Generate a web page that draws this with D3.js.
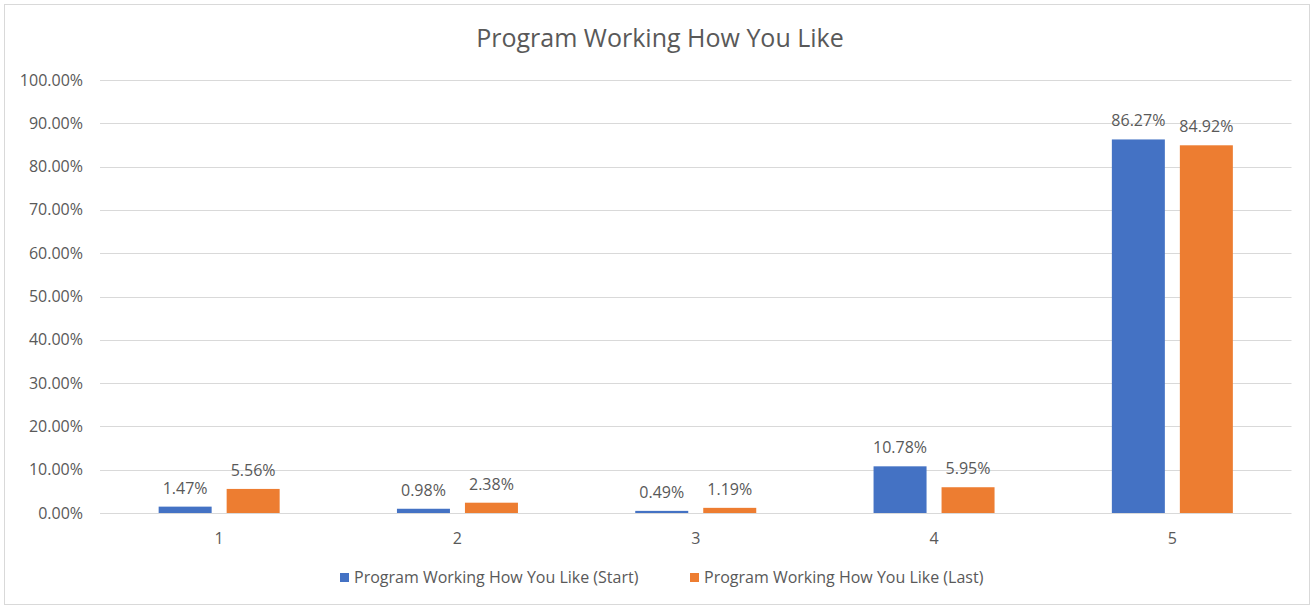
<html>
<head>
<meta charset="utf-8">
<title>Program Working How You Like</title>
<script src="https://cdn.jsdelivr.net/npm/d3@7"></script>
<style>
    body { margin: 0; background: #fff; }
    text { font-family: "Open Sans", "Liberation Sans", sans-serif; fill: #595959; }
</style>
</head>
<body>
<script>
    var categories = ["1", "2", "3", "4", "5"];
    var seriesNames = ["Program Working How You Like (Start)", "Program Working How You Like (Last)"];
    var startValues = [1.47, 0.98, 0.49, 10.78, 86.27];
    var lastValues = [5.56, 2.38, 1.19, 5.95, 84.92];
    var yTicks = [0, 10, 20, 30, 40, 50, 60, 70, 80, 90, 100];
    var colors = ["#4472c4", "#ed7d31"];

    var width = 1313, height = 608;

    var svg = d3.select("body").append("svg")
        .attr("width", width)
        .attr("height", height);

    // chart frame
    svg.append("rect")
        .attr("x", 4.5).attr("y", 4.5)
        .attr("width", 1305).attr("height", 600)
        .attr("fill", "#fff")
        .attr("stroke", "#d9d9d9");

    svg.append("text")
        .attr("x", 660).attr("y", 47)
        .attr("text-anchor", "middle")
        .style("font-size", "25px")
        .text("Program Working How You Like");

    var x = d3.scaleBand().domain(categories).range([100, 1291.5]);
    var y = d3.scaleLinear().domain([0, 100]).range([513, 80]);

    // gridlines
    svg.append("g").selectAll("line")
        .data(yTicks)
        .enter().append("line")
        .attr("x1", 100).attr("x2", 1291.5)
        .attr("y1", function (d) { return Math.round(y(d)) + 0.5; })
        .attr("y2", function (d) { return Math.round(y(d)) + 0.5; })
        .attr("stroke", "#d9d9d9")
        .attr("stroke-width", 1);

    svg.append("g").selectAll("text")
        .data(yTicks)
        .enter().append("text")
        .attr("x", 83)
        .attr("y", function (d) { return y(d) + 5.5; })
        .attr("text-anchor", "end")
        .style("font-size", "16px")
        .text(function (d) { return d.toFixed(2) + "%"; });

    svg.append("g").selectAll("text")
        .data(categories)
        .enter().append("text")
        .attr("x", function (d) { return x(d) + x.bandwidth() / 2; })
        .attr("y", 544)
        .attr("text-anchor", "middle")
        .style("font-size", "16px")
        .text(function (d) { return d; });

    var barW = 53, gap = 15;
    var series = [startValues, lastValues];

    series.forEach(function (vals, s) {
        var g = svg.append("g");
        var bx = function (d, i) {
            var c = x(categories[i]) + x.bandwidth() / 2;
            return s === 0 ? c - gap / 2 - barW : c + gap / 2;
        };
        g.selectAll("rect")
            .data(vals)
            .enter().append("rect")
            .attr("x", bx)
            .attr("y", function (d) { return y(d); })
            .attr("width", barW)
            .attr("height", function (d) { return y(0) - y(d); })
            .attr("fill", colors[s]);
        g.selectAll("text")
            .data(vals)
            .enter().append("text")
            .attr("x", function (d, i) { return bx(d, i) + barW / 2; })
            .attr("y", function (d) { return y(d) - 13; })
            .attr("text-anchor", "middle")
            .style("font-size", "16px")
            .text(function (d) { return d.toFixed(2) + "%"; });
    });

    // legend
    var legendX = [340, 690];
    var lg = svg.append("g").selectAll("g")
        .data(seriesNames)
        .enter().append("g")
        .attr("transform", function (d, i) { return "translate(" + legendX[i] + ",573)"; });
    lg.append("rect")
        .attr("width", 9).attr("height", 9)
        .attr("fill", function (d, i) { return colors[i]; });
    lg.append("text")
        .attr("x", 14).attr("y", 10)
        .style("font-size", "16px")
        .text(function (d) { return d; });
</script>
</body>
</html>
